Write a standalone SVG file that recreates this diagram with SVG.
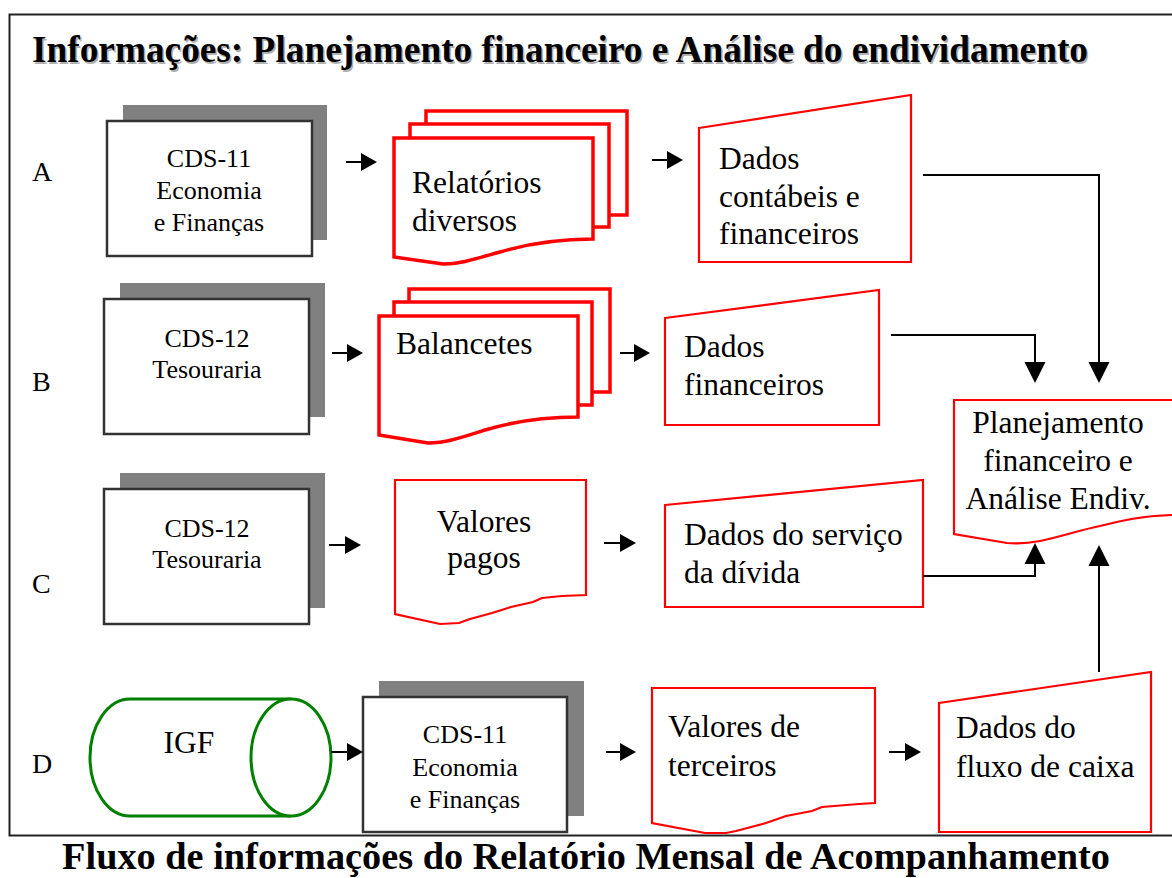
<svg xmlns="http://www.w3.org/2000/svg" width="1172" height="878" viewBox="0 0 1172 878">
  <defs>
    <marker id="head-sm" markerUnits="userSpaceOnUse" markerWidth="16" markerHeight="18" refX="0" refY="9" orient="auto" overflow="visible">
      <path d="M0,0 L16,9 L0,18 Z" fill="#000"/>
    </marker>
    <marker id="head-lg" markerUnits="userSpaceOnUse" markerWidth="21" markerHeight="21" refX="0" refY="10.5" orient="auto" overflow="visible">
      <path d="M0,0 L21,10.5 L0,21 Z" fill="#000"/>
    </marker>
  </defs>
  <style>
    .frame { fill: #fff; stroke: #222; stroke-width: 2; }
    .title { font-family: "Liberation Serif", "Times New Roman", serif; font-weight: bold; font-size: 37.3px; fill: #000; }
    .title-shadow { font-family: "Liberation Serif", "Times New Roman", serif; font-weight: bold; font-size: 37.3px; fill: #b0b0b0; }
    .caption { font-family: "Liberation Serif", "Times New Roman", serif; font-weight: bold; font-size: 38.3px; fill: #000; text-anchor: middle; }
    .row { font-family: "Liberation Serif", "Times New Roman", serif; font-size: 28px; fill: #000; }
    .shadow { fill: #808080; }
    .proc { fill: #fff; stroke: #333; stroke-width: 2.5; }
    .ptext { font-family: "Liberation Serif", "Times New Roman", serif; font-size: 26px; fill: #000; text-anchor: middle; }
    .doc { fill: #fff; stroke: #f00; stroke-width: 2.2; stroke-linejoin: miter; }
    .mdoc { fill: #fff; stroke: #f00; stroke-width: 3.5; stroke-linejoin: miter; }
    .dtext { font-family: "Liberation Serif", "Times New Roman", serif; font-size: 31.5px; fill: #000; }
    .store { fill: #fff; stroke: #008000; stroke-width: 3; }
    .flow { fill: none; stroke: #000; stroke-width: 2; }
  </style>

  <!-- outer frame -->
  <rect class="frame" x="9.5" y="14.5" width="1175" height="821"/>

  <!-- heading with a soft drop shadow -->
  <text class="title-shadow" x="33.5" y="63.5">Informações: Planejamento financeiro e Análise do endividamento</text>
  <text class="title" x="32" y="62">Informações: Planejamento financeiro e Análise do endividamento</text>

  <!-- row letters -->
  <text class="row" x="32" y="181">A</text>
  <text class="row" x="32" y="391">B</text>
  <text class="row" x="32" y="593">C</text>
  <text class="row" x="32" y="773">D</text>

  <!-- row A -->
  <g id="a-cds11">
    <rect class="shadow" x="123" y="105" width="204" height="135"/>
    <rect class="proc" x="107" y="121" width="205" height="135"/>
    <text class="ptext" x="209" y="167">CDS-11</text>
    <text class="ptext" x="209" y="199">Economia</text>
    <text class="ptext" x="209" y="231">e Finanças</text>
  </g>
  <g id="a-relatorios">
    <path class="mdoc" d="M426,127 V111 H627 V215 H609"/>
    <path class="mdoc" d="M410,138 V124 H609 V227 H593"/>
    <path class="mdoc" d="M394,138 H593 V239 C560,239 530,243 500,252 C475,259 460,264 443,264 L394,257 Z"/>
    <text class="dtext" x="412" y="193">Relatórios</text>
    <text class="dtext" x="412" y="231">diversos</text>
  </g>
  <g id="a-dados">
    <path class="doc" d="M699,128 L911,95 V262 H699 Z"/>
    <text class="dtext" x="719" y="169">Dados</text>
    <text class="dtext" x="719" y="207">contábeis e</text>
    <text class="dtext" x="719" y="244">financeiros</text>
  </g>

  <!-- row B -->
  <g id="b-cds12">
    <rect class="shadow" x="120" y="283" width="205" height="134"/>
    <rect class="proc" x="104" y="299" width="205" height="135"/>
    <text class="ptext" x="207" y="347">CDS-12</text>
    <text class="ptext" x="207" y="378">Tesouraria</text>
  </g>
  <g id="b-balancetes">
    <path class="mdoc" d="M409,302 V289 H610 V392 H592"/>
    <path class="mdoc" d="M394,316 V302 H592 V405 H578"/>
    <path class="mdoc" d="M379,316 H578 V417 C545,417 515,421 485,430 C460,438 445,443 428,443 L379,435 Z"/>
    <text class="dtext" x="396" y="354">Balancetes</text>
  </g>
  <g id="b-dados">
    <path class="doc" d="M665,318 L879,290 V425 H665 Z"/>
    <text class="dtext" x="684" y="357">Dados</text>
    <text class="dtext" x="684" y="395">financeiros</text>
  </g>

  <!-- row C -->
  <g id="c-cds12">
    <rect class="shadow" x="120" y="473" width="205" height="135"/>
    <rect class="proc" x="104" y="489" width="205" height="135"/>
    <text class="ptext" x="207" y="537">CDS-12</text>
    <text class="ptext" x="207" y="568">Tesouraria</text>
  </g>
  <g id="c-valores">
    <path class="doc" d="M395,480 H586 V595 L562,596 L542,598 L533,602 L511,607 L492,613 L470,619 L459,623 L440,624 L395,614 Z"/>
    <text class="dtext" x="484" y="532" text-anchor="middle">Valores</text>
    <text class="dtext" x="484" y="568" text-anchor="middle">pagos</text>
  </g>
  <g id="c-dados">
    <path class="doc" d="M665,505 L923,480 V607 H665 Z"/>
    <text class="dtext" x="684" y="545">Dados do serviço</text>
    <text class="dtext" x="684" y="583">da dívida</text>
  </g>

  <!-- row D -->
  <g id="d-igf">
    <path class="store" d="M291,699 H130 A40,58.5 0 0 0 130,816 H291"/>
    <ellipse class="store" cx="291" cy="757.5" rx="40" ry="58.5"/>
    <text class="dtext" x="189" y="753" text-anchor="middle">IGF</text>
  </g>
  <g id="d-cds11">
    <rect class="shadow" x="379" y="681" width="205" height="135"/>
    <rect class="proc" x="363" y="697" width="204" height="135"/>
    <text class="ptext" x="465" y="743">CDS-11</text>
    <text class="ptext" x="465" y="776">Economia</text>
    <text class="ptext" x="465" y="808">e Finanças</text>
  </g>
  <g id="d-valores">
    <path class="doc" d="M652,688 H875 V803 L859,804 L822,807 L812,811 L786,816 L766,823 L736,831 L726,833 L705,833 L652,823 Z"/>
    <text class="dtext" x="668" y="737">Valores de</text>
    <text class="dtext" x="668" y="776">terceiros</text>
  </g>
  <g id="d-fluxo">
    <path class="doc" d="M939,703 L1151,672 V832 H939 Z"/>
    <text class="dtext" x="956" y="738">Dados do</text>
    <text class="dtext" x="956" y="777">fluxo de caixa</text>
  </g>

  <!-- target document, running past the right edge -->
  <g id="planejamento">
    <path class="doc" d="M1180,400 H954 V534 L1007,543 C1020,544 1030,543 1040,541 C1060,537 1080,530 1100,526 C1120,521 1140,516 1172,515 H1180"/>
    <text class="dtext" x="1058" y="433" text-anchor="middle">Planejamento</text>
    <text class="dtext" x="1058" y="471" text-anchor="middle">financeiro e</text>
    <text class="dtext" x="1058" y="509" text-anchor="middle">Análise Endiv.</text>
  </g>

  <!-- connectors -->
  <g id="connectors">
    <path class="flow" d="M346,162 H361" marker-end="url(#head-sm)"/>
    <path class="flow" d="M652,160 H667" marker-end="url(#head-sm)"/>
    <path class="flow" d="M332,353 H347" marker-end="url(#head-sm)"/>
    <path class="flow" d="M620,353 H634" marker-end="url(#head-sm)"/>
    <path class="flow" d="M329,545 H345" marker-end="url(#head-sm)"/>
    <path class="flow" d="M604,543 H620" marker-end="url(#head-sm)"/>
    <path class="flow" d="M331,752 H347" marker-end="url(#head-sm)"/>
    <path class="flow" d="M606,752 H620" marker-end="url(#head-sm)"/>
    <path class="flow" d="M889,752 H905" marker-end="url(#head-sm)"/>
    <path class="flow" d="M923,175 H1099 V362" marker-end="url(#head-lg)"/>
    <path class="flow" d="M891,335 H1035 V362" marker-end="url(#head-lg)"/>
    <path class="flow" d="M923,576 H1035 V564" marker-end="url(#head-lg)"/>
    <path class="flow" d="M1099,672 V566" marker-end="url(#head-lg)"/>
  </g>

  <!-- caption -->
  <text class="caption" x="586" y="869">Fluxo de informações do Relatório Mensal de Acompanhamento</text>
</svg>
